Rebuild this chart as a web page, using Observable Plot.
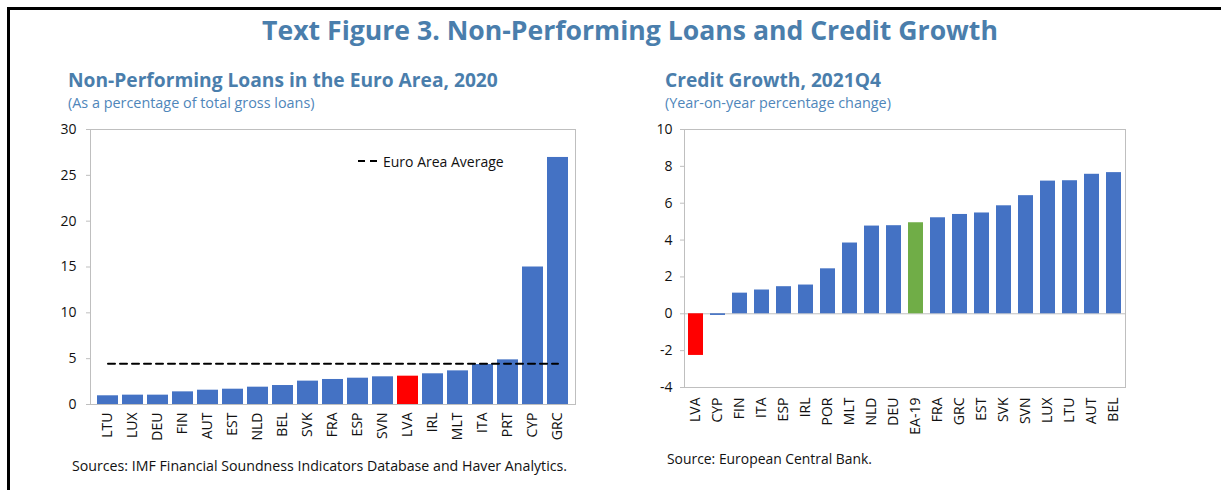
<!DOCTYPE html>
<html>
<head>
<meta charset="utf-8">
<script src="https://cdn.jsdelivr.net/npm/d3@7"></script>
<script src="https://cdn.jsdelivr.net/npm/@observablehq/plot@0.6"></script>
<style>
  html, body { margin:0; padding:0; background:#fff; }
  #page { position:relative; width:1221px; height:490px; overflow:hidden; font-family:"Open Sans", "Noto Sans", sans-serif; }
  .abs { position:absolute; white-space:nowrap; }
  #border { position:absolute; left:7px; top:7px; width:1230px; height:500px; border-top:3px solid #000; border-left:3px solid #000; }
  .main { left:0; width:1260px; text-align:center; top:12px; font-size:26.6px; font-weight:700; color:#4a7eac; }
  .sub { font-size:19.2px; font-weight:700; color:#4a7eac; }
  .paren { font-size:14.4px; color:#4f86ba; }
  .src { color:#111; }
  #left, #right { position:absolute; top:110px; }
  #left { left:0; }
  #right { left:600px; }
</style>
</head>
<body>
<div id="page">
  <div id="border"></div>
  <div class="abs main">Text Figure 3. Non-Performing Loans and Credit Growth</div>
  <div class="abs sub" style="left:68px; top:66px;">Non-Performing Loans in the Euro Area, 2020</div>
  <div class="abs paren" style="left:68px; top:93px;">(As a percentage of total gross loans)</div>
  <div class="abs sub" style="left:665px; top:66px;">Credit Growth, 2021Q4</div>
  <div class="abs paren" style="left:665px; top:93px;">(Year-on-year percentage change)</div>
  <div id="left"></div>
  <div id="right"></div>
  <div class="abs" style="left:358px; top:150px; font-size:14px; color:#111;">
    <svg width="22" height="10" style="vertical-align:middle;"><line x1="0" y1="5" x2="21" y2="5" stroke="#000" stroke-width="2" stroke-dasharray="7,5"/></svg><span style="vertical-align:middle; margin-left:3px;">Euro Area Average</span>
  </div>
  <div class="abs src" style="left:72px; top:456px; font-size:14.2px;">Sources: IMF Financial Soundness Indicators Database and Haver Analytics.</div>
  <div class="abs src" style="left:667px; top:449px; font-size:13.9px;">Source: European Central Bank.</div>
</div>
<script>
// Non-performing loans, 2020 (% of total gross loans)
const nplCountries = ["LTU","LUX","DEU","FIN","AUT","EST","NLD","BEL","SVK","FRA","ESP","SVN","LVA","IRL","MLT","ITA","PRT","CYP","GRC"];
const nplValues    = [0.95, 1.02, 1.02, 1.38, 1.56, 1.67, 1.89, 2.07, 2.55, 2.73, 2.87, 3.02, 3.09, 3.35, 3.67, 4.36, 4.87, 15.0, 26.95];
const nplAverage   = 4.44;
const nplTicks     = [0, 5, 10, 15, 20, 25, 30];

// Credit growth, 2021Q4 (y/y % change)
const cgCountries = ["LVA","CYP","FIN","ITA","ESP","IRL","POR","MLT","NLD","DEU","EA-19","FRA","GRC","EST","SVK","SVN","LUX","LTU","AUT","BEL"];
const cgValues    = [-2.26, -0.09, 1.12, 1.29, 1.47, 1.56, 2.44, 3.84, 4.76, 4.78, 4.94, 5.21, 5.39, 5.47, 5.86, 6.41, 7.2, 7.22, 7.57, 7.66];
const cgTicks     = [-4, -2, 0, 2, 4, 6, 8, 10];

const BLUE = "#4472c4", RED = "#ff0000", GREEN = "#70ad47", GRID = "#bfbfbf";
const font = {fontFamily: "'Open Sans', 'Noto Sans', sans-serif", fontSize: "14px", color: "#111", background: "transparent", overflow: "visible"};

const nplData = nplCountries.map((c, i) => ({c, v: nplValues[i]}));
const avgData = nplCountries.map(c => ({c, v: nplAverage}));

const left = Plot.plot({
  width: 600, height: 340,
  marginLeft: 90, marginRight: 25, marginTop: 19, marginBottom: 46,
  style: font,
  x: {domain: nplCountries, paddingInner: 0.17, paddingOuter: 0.085, axis: null},
  y: {domain: [0, 30], axis: null},
  marks: [
    Plot.frame({stroke: GRID}),
    Plot.barY(nplData, {x: "c", y: "v", fill: d => d.c === "LVA" ? RED : BLUE}),
    Plot.lineY(avgData, {x: "c", y: "v", stroke: "#000", strokeWidth: 2, strokeDasharray: "7,5"}),
    Plot.axisY(nplTicks, {tickSize: 4, tickPadding: 10, stroke: GRID, fill: "#111", label: null, tickFormat: d => String(d)}),
    Plot.axisX({tickRotate: -90, tickSize: 0, tickPadding: 8, fill: "#111", label: null})
  ]
});
document.getElementById("left").appendChild(left);

const cgData = cgCountries.map((c, i) => ({c, v: cgValues[i]}));
const right = Plot.plot({
  width: 545, height: 330,
  marginLeft: 84, marginRight: 20, marginTop: 19, marginBottom: 53,
  style: font,
  x: {domain: cgCountries, paddingInner: 0.34, paddingOuter: 0.17, axis: null},
  y: {domain: [-4, 10], axis: null},
  marks: [
    Plot.frame({stroke: GRID}),
    Plot.ruleY([0], {stroke: GRID}),
    Plot.barY(cgData, {x: "c", y: "v", fill: d => d.c === "LVA" ? RED : d.c === "EA-19" ? GREEN : BLUE}),
    Plot.axisY(cgTicks, {tickSize: 4, tickPadding: 8, stroke: GRID, fill: "#111", label: null, tickFormat: d => String(d)}),
    Plot.axisX({tickRotate: -90, tickSize: 0, tickPadding: 10, fill: "#111", label: null})
  ]
});
document.getElementById("right").appendChild(right);
</script>
</body>
</html>
